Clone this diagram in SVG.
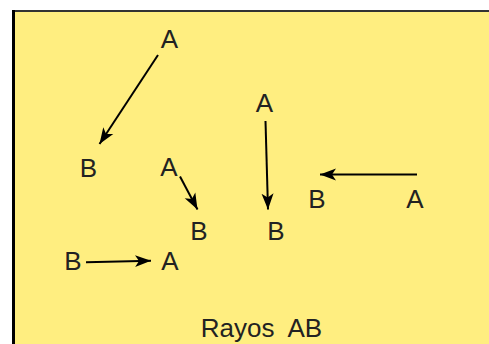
<svg xmlns="http://www.w3.org/2000/svg" width="489" height="344" viewBox="0 0 489 344">
<style>
.t{font-family:"Liberation Sans",Arial,sans-serif;font-size:26px;fill:#222;text-anchor:middle}
.c{stroke:#000;stroke-width:2;fill:none;marker-end:url(#ah)}
</style>
<defs>
<marker id="ah" markerUnits="userSpaceOnUse" markerWidth="18" markerHeight="14" refX="16" refY="7" orient="auto">
<path d="M0,1 L16,7 L0,13 L4,7 Z" fill="#000"/>
</marker>
</defs>
<rect width="489" height="344" fill="#fff"/>
<rect x="13" y="11" width="480" height="340" fill="#FFEE80"/>
<line x1="12" y1="11" x2="489" y2="11" stroke="#333" stroke-width="2"/>
<line x1="13.5" y1="10" x2="13.5" y2="344" stroke="#000" stroke-width="3"/>
<g id="connectors">
<line class="c" x1="158" y1="55" x2="99.5" y2="144"/>
<line class="c" x1="180" y1="176.5" x2="197.5" y2="209.5"/>
<line class="c" x1="265.5" y1="121" x2="268" y2="209.5"/>
<line class="c" x1="417" y1="174.5" x2="320" y2="174.5"/>
<line class="c" x1="86" y1="262.3" x2="151" y2="260.7"/>
</g>
<g id="A1"><text class="t" x="169.5" y="48">A</text></g>
<g id="B1"><text class="t" x="88.5" y="177">B</text></g>
<g id="A2"><text class="t" x="169" y="176">A</text></g>
<g id="B2"><text class="t" x="199" y="240">B</text></g>
<g id="A3"><text class="t" x="264.5" y="112">A</text></g>
<g id="B3"><text class="t" x="276" y="240">B</text></g>
<g id="B4"><text class="t" x="317" y="208">B</text></g>
<g id="A4"><text class="t" x="415" y="208">A</text></g>
<g id="B5"><text class="t" x="73" y="270">B</text></g>
<g id="A5"><text class="t" x="170" y="270">A</text></g>
<g id="title"><text class="t" x="261.5" y="337" xml:space="preserve">Rayos  AB</text></g>
</svg>
